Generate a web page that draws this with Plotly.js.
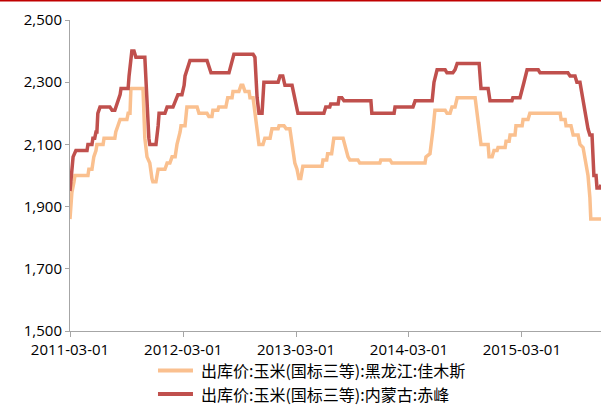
<!DOCTYPE html>
<html>
<head>
<meta charset="utf-8">
<script src="https://cdn.plot.ly/plotly-3.0.1.min.js"></script>
<style>
html,body{margin:0;padding:0;background:#fff;}
#chart{width:601px;height:405px;}
</style>
</head>
<body>
<div id="chart"></div>
<script>
// Series names
const nameHLJ = "出库价:玉米(国标三等):黑龙江:佳木斯";
const nameNMG = "出库价:玉米(国标三等):内蒙古:赤峰";

// 黑龙江:佳木斯 (orange)
const hljDates = [
"2011-03-01","2011-03-07","2011-03-14","2011-03-17","2011-04-28","2011-05-01","2011-05-11","2011-05-14","2011-05-17","2011-05-24",
"2011-05-27","2011-06-16","2011-06-19","2011-07-24","2011-07-27","2011-08-03","2011-08-10","2011-09-01","2011-09-05","2011-09-11",
"2011-09-14","2011-10-23","2011-10-29","2011-11-05","2011-11-14","2011-11-21","2011-11-24","2011-12-04","2011-12-11","2012-01-02",
"2012-01-09","2012-01-18","2012-01-25","2012-02-04","2012-02-10","2012-02-20","2012-02-23","2012-03-07","2012-03-13","2012-04-15",
"2012-04-21","2012-05-17","2012-05-23","2012-06-02","2012-06-05","2012-06-21","2012-06-24","2012-07-17","2012-07-23","2012-08-06",
"2012-08-09","2012-08-28","2012-09-04","2012-09-10","2012-09-17","2012-09-30","2012-10-03","2012-10-13","2012-10-22","2012-11-01",
"2012-11-14","2012-11-20","2012-12-07","2012-12-13","2013-01-02","2013-01-05","2013-01-21","2013-01-28","2013-02-09","2013-02-16",
"2013-02-25","2013-03-04","2013-03-10","2013-03-16","2013-03-23","2013-05-24","2013-05-27","2013-06-08","2013-06-11","2013-06-24",
"2013-07-01","2013-07-31","2013-08-09","2013-08-16","2013-08-22","2013-09-17","2013-09-23","2013-11-27","2013-11-30","2013-12-30",
"2014-01-05","2014-04-22","2014-04-25","2014-05-08","2014-05-18","2014-05-24","2014-06-26","2014-07-02","2014-07-12","2014-07-18",
"2014-07-28","2014-08-04","2014-10-01","2014-10-10","2014-10-20","2014-11-12","2014-11-15","2014-11-25","2014-12-01","2014-12-11",
"2014-12-14","2015-01-06","2015-01-09","2015-01-19","2015-01-22","2015-02-07","2015-02-10","2015-03-02","2015-03-05","2015-03-21",
"2015-03-27","2015-07-03","2015-07-06","2015-07-19","2015-07-22","2015-08-07","2015-08-14","2015-08-30","2015-09-05","2015-09-15",
"2015-09-24","2015-10-01","2015-10-07","2015-10-10","2015-11-12"
];
const hljValues = [
1860,1945,1980,2000,2000,2020,2020,2040,2060,2080,
2100,2100,2120,2120,2140,2160,2180,2180,2200,2200,
2280,2280,2120,2060,2040,1990,1980,1980,2020,2020,
2040,2040,2060,2060,2100,2140,2160,2160,2220,2220,
2200,2200,2190,2190,2210,2210,2220,2220,2250,2250,
2270,2270,2290,2290,2270,2270,2250,2250,2180,2100,
2100,2120,2120,2150,2150,2160,2160,2150,2150,2100,
2040,2020,1990,1990,2030,2030,2050,2050,2070,2070,
2120,2120,2090,2060,2050,2050,2040,2040,2050,2050,
2040,2040,2060,2070,2150,2210,2210,2200,2200,2220,
2220,2250,2250,2170,2100,2100,2060,2060,2080,2080,
2090,2090,2110,2110,2130,2130,2160,2160,2180,2180,
2200,2200,2180,2180,2160,2160,2130,2130,2100,2090,
2040,2000,1930,1860,1860
];

// 内蒙古:赤峰 (red)
const nmgDates = [
"2011-03-01","2011-03-11","2011-03-20","2011-04-25","2011-04-28","2011-05-11","2011-05-14","2011-05-20","2011-05-24","2011-05-27",
"2011-05-30","2011-06-06","2011-07-08","2011-07-15","2011-07-24","2011-07-27","2011-08-03","2011-08-10","2011-08-13","2011-09-05",
"2011-09-08","2011-09-17","2011-09-24","2011-09-30","2011-10-29","2011-11-05","2011-11-11","2011-11-14","2011-12-04","2011-12-11",
"2011-12-14","2012-01-02","2012-01-09","2012-01-28","2012-02-04","2012-02-13","2012-02-26","2012-03-04","2012-03-07","2012-03-13",
"2012-03-23","2012-05-17","2012-05-30","2012-07-27","2012-08-03","2012-08-12","2012-10-13","2012-10-19","2012-10-26","2012-11-01",
"2012-11-11","2012-11-17","2013-01-02","2013-01-08","2013-01-17","2013-01-24","2013-02-16","2013-02-25","2013-03-07","2013-03-13",
"2013-05-30","2013-06-05","2013-06-18","2013-06-21","2013-07-15","2013-07-18","2013-07-27","2013-08-03","2013-10-29","2013-11-01",
"2014-01-12","2014-01-15","2014-03-14","2014-03-21","2014-05-15","2014-05-21","2014-05-31","2014-06-26","2014-07-02","2014-07-21",
"2014-07-28","2014-08-04","2014-10-14","2014-10-20","2014-11-12","2014-11-18","2015-01-28","2015-01-31","2015-02-23","2015-03-08",
"2015-03-18","2015-04-23","2015-04-29","2015-07-28","2015-08-04","2015-08-20","2015-08-26","2015-09-05","2015-09-12","2015-09-21",
"2015-10-01","2015-10-07","2015-10-14","2015-10-20","2015-10-27","2015-10-30","2015-11-08","2015-11-12"
];
const nmgValues = [
1950,2060,2080,2080,2100,2100,2120,2120,2140,2140,
2200,2220,2220,2210,2210,2220,2240,2260,2280,2280,
2320,2400,2400,2380,2380,2220,2120,2100,2100,2160,
2200,2200,2220,2220,2240,2260,2260,2290,2320,2340,
2370,2370,2330,2330,2360,2390,2390,2380,2250,2200,
2200,2300,2300,2320,2320,2290,2290,2240,2200,2200,
2200,2220,2220,2230,2230,2250,2250,2240,2240,2200,
2200,2220,2220,2240,2240,2300,2340,2340,2330,2330,
2340,2360,2360,2280,2280,2240,2240,2250,2250,2300,
2340,2340,2330,2330,2320,2320,2300,2300,2255,2210,
2150,2130,2130,2000,2000,1960,1960,1970
];

// Axis ticks
const xTickVals = ["2011-03-01","2012-03-01","2013-03-01","2014-03-01","2015-03-01"];
const xTickText = ["2011-03-01","2012-03-01","2013-03-01","2014-03-01","2015-03-01"];
const yTickVals = [1500,1700,1900,2100,2300,2500];

const colHLJ = "#FAC08F";
const colNMG = "#C0504D";
const tickFont = {family: "Open Sans, Liberation Sans, sans-serif", size: 15, color: "#000000"};
const legFont = {family: "Noto Sans CJK SC, sans-serif", size: 16, color: "#000000"};

const traces = [
  {x: hljDates, y: hljValues, name: nameHLJ, type: "scatter", mode: "lines",
   line: {color: colHLJ, width: 3.5}},
  {x: nmgDates, y: nmgValues, name: nameNMG, type: "scatter", mode: "lines",
   line: {color: colNMG, width: 3.5}}
];

// legend drawn below the plot (paper coordinates)
const legRows = [{name: nameHLJ, color: colHLJ, y: -0.1270}, {name: nameNMG, color: colNMG, y: -0.2026}];

const layout = {
  width: 601, height: 405,
  margin: {l: 70, r: 0, t: 20, b: 74},
  paper_bgcolor: "#ffffff", plot_bgcolor: "#ffffff",
  showlegend: false,
  xaxis: {type: "date", range: ["2011-03-01", "2015-11-12"],
          tickmode: "array", tickvals: xTickVals, ticktext: xTickText,
          showgrid: false, zeroline: false, showline: true, linecolor: "#A6A6A6", linewidth: 1,
          ticks: "outside", ticklen: 5, tickcolor: "#A6A6A6", tickfont: tickFont},
  yaxis: {range: [1500, 2500], tickmode: "array", tickvals: yTickVals, tickformat: ",d",
          showgrid: false, zeroline: false, showline: true, linecolor: "#A6A6A6", linewidth: 1,
          ticks: "outside", ticklen: 4, tickcolor: "#A6A6A6", tickfont: tickFont},
  shapes: [{type: "line", xref: "paper", yref: "paper", x0: -0.2, x1: 1.1,
            y0: 1 + 19.5/311, y1: 1 + 19.5/311, line: {color: "#C00000", width: 2}}]
    .concat(legRows.map(r => ({type: "line", xref: "paper", yref: "paper",
            x0: 0.1657, x1: 0.2316, y0: r.y, y1: r.y, line: {color: r.color, width: 4}}))),
  annotations: legRows.map(r => ({xref: "paper", yref: "paper", x: 0.2448, y: r.y,
            xanchor: "left", yanchor: "middle", showarrow: false, borderpad: 0,
            text: r.name, font: legFont}))
};

Plotly.newPlot("chart", traces, layout, {displayModeBar: false, staticPlot: true});
</script>
</body>
</html>
